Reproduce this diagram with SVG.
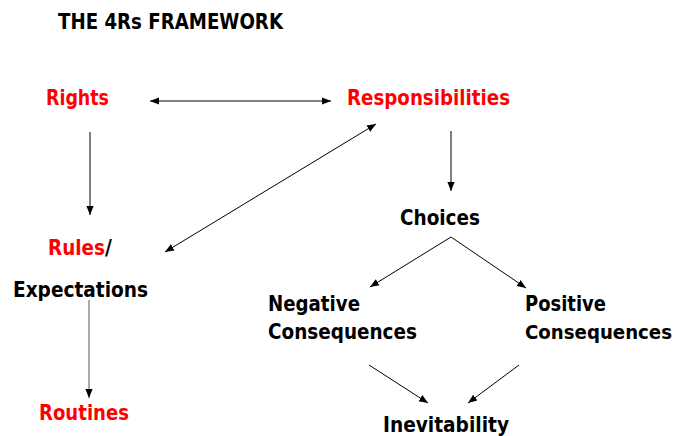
<svg xmlns="http://www.w3.org/2000/svg" width="675" height="436" viewBox="0 0 675 436">
<defs>
<style>
text{font-family:"DejaVu Sans Condensed","DejaVu Sans",sans-serif;font-weight:bold;font-size:21px;fill:#000}
.r{fill:#ff0000}
.s{font-size:20px}
.c line{stroke:#000;stroke-width:1}
</style>
<marker id="a" viewBox="0 0 10 10" refX="10" refY="5" markerWidth="9" markerHeight="9" markerUnits="userSpaceOnUse" orient="auto-start-reverse"><path d="M0,1 L10,5 L0,9 Z" fill="#000"/></marker>
</defs>
<rect width="675" height="436" fill="#fff"/>
<text id="title" x="58" y="29" textLength="225" lengthAdjust="spacingAndGlyphs">THE 4Rs FRAMEWORK</text>
<g id="rights"><text class="r" x="46" y="105" textLength="63" lengthAdjust="spacingAndGlyphs">Rights</text></g>
<g id="responsibilities"><text class="r" x="347" y="105" textLength="163" lengthAdjust="spacingAndGlyphs">Responsibilities</text></g>
<g id="rules"><text x="48" y="255"><tspan class="r" textLength="57" lengthAdjust="spacingAndGlyphs">Rules</tspan><tspan>/</tspan></text>
<text x="13" y="297" textLength="135" lengthAdjust="spacingAndGlyphs">Expectations</text></g>
<g id="routines"><text class="r" x="39" y="420" textLength="90" lengthAdjust="spacingAndGlyphs">Routines</text></g>
<g id="choices"><text x="400" y="225" textLength="80" lengthAdjust="spacingAndGlyphs">Choices</text></g>
<g id="negative"><text x="268" y="311" textLength="92" lengthAdjust="spacingAndGlyphs">Negative</text>
<text x="268" y="339" textLength="149" lengthAdjust="spacingAndGlyphs">Consequences</text></g>
<g id="positive"><text x="525" y="311" textLength="81" lengthAdjust="spacingAndGlyphs">Positive</text>
<text class="s" x="525" y="339" textLength="147" lengthAdjust="spacingAndGlyphs">Consequences</text></g>
<g id="inevitability"><text x="383" y="432" textLength="126" lengthAdjust="spacingAndGlyphs">Inevitability</text></g>
<g class="c" id="connectors">
<line x1="150" y1="101" x2="331" y2="101" marker-start="url(#a)" marker-end="url(#a)"/>
<line x1="90" y1="132" x2="90" y2="215" marker-end="url(#a)"/>
<line x1="451" y1="131" x2="451" y2="191" marker-end="url(#a)"/>
<line x1="165" y1="252" x2="376" y2="124" marker-start="url(#a)" marker-end="url(#a)"/>
<line x1="89" y1="300" x2="89" y2="398" marker-end="url(#a)" style="stroke:#555"/>
<line x1="451" y1="237" x2="370" y2="287" marker-end="url(#a)"/>
<line x1="451" y1="237" x2="526" y2="288" marker-end="url(#a)"/>
<line x1="369" y1="365" x2="428" y2="403" marker-end="url(#a)"/>
<line x1="519" y1="365" x2="468" y2="403" marker-end="url(#a)"/>
</g>
</svg>
